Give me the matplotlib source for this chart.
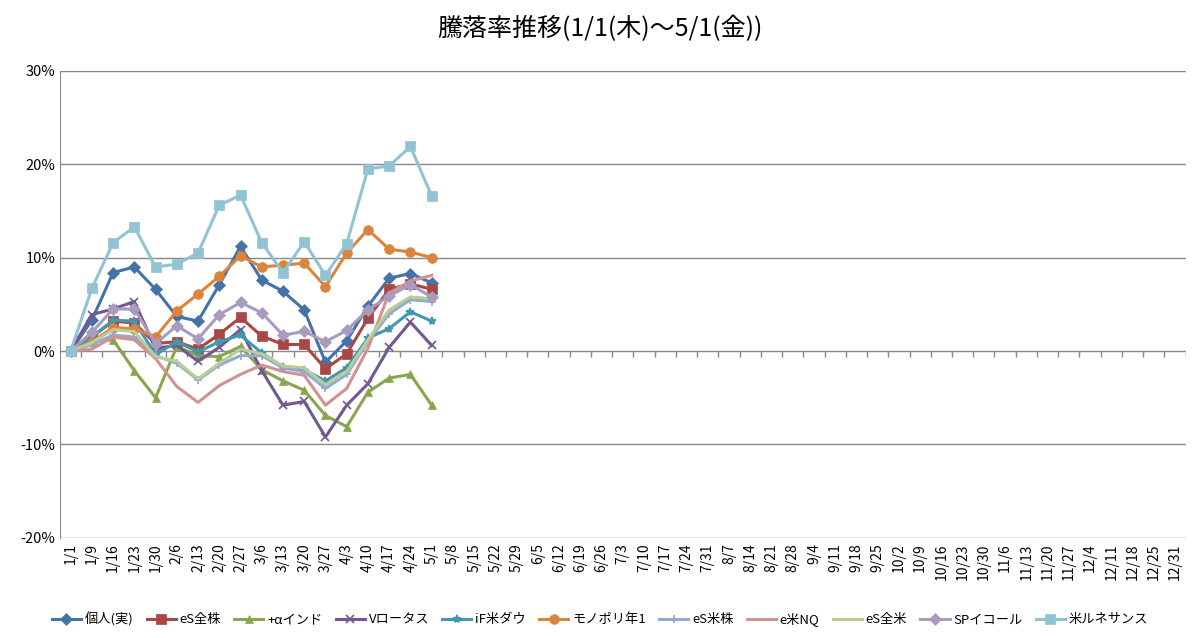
import datetime as dt
import matplotlib.pyplot as plt
from matplotlib.ticker import FuncFormatter

plt.rcParams['font.family'] = ['Noto Sans CJK JP', 'DejaVu Sans']

# 週次のカテゴリ(1/1, 1/9 以降の毎週金曜, 12/31)
d0 = dt.date(2015, 1, 9)
dates = ['1/1'] + [f'{(d0 + dt.timedelta(weeks=i)).month}/{(d0 + dt.timedelta(weeks=i)).day}' for i in range(51)] + ['12/31']

kojin = [0, 3.3, 8.4, 9.0, 6.6, 3.7, 3.2, 7.1, 11.2, 7.6, 6.4, 4.4, -1.2, 1.1, 4.8, 7.8, 8.3, 7.3]
es_zenkabu = [0, 1.5, 3.2, 3.0, 0.8, 1.0, 0.2, 1.8, 3.6, 1.6, 0.7, 0.7, -1.9, -0.3, 3.5, 6.6, 7.2, 6.6]
alpha_india = [0, 1.0, 1.2, -2.1, -5.0, 0.5, -0.5, -0.6, 0.5, -2.0, -3.2, -4.2, -6.9, -8.1, -4.4, -2.9, -2.5, -5.8]
v_lotus = [0, 3.9, 4.5, 5.3, 0.3, 0.6, -1.1, 0.4, 2.3, -2.1, -5.8, -5.4, -9.2, -5.8, -3.5, 0.4, 3.1, 0.6]
if_dow = [0, 1.5, 3.3, 3.2, -0.4, 1.0, -0.1, 1.0, 1.7, -0.2, -1.7, -2.0, -3.2, -1.8, 1.4, 2.4, 4.2, 3.2]
monopoly = [0, 1.0, 2.5, 2.4, 1.5, 4.3, 6.1, 8.0, 10.2, 9.0, 9.2, 9.4, 6.9, 10.5, 13.0, 10.9, 10.6, 10.0]
es_beikabu = [0, 0.7, 1.7, 1.5, -0.5, -1.3, -3.1, -1.5, -0.5, -0.5, -1.8, -2.2, -4.0, -2.5, 1.0, 4.0, 5.5, 5.3]
e_nq = [0, 0.2, 1.5, 1.2, -0.8, -3.8, -5.5, -3.7, -2.5, -1.5, -2.2, -2.6, -5.8, -4.0, 0.3, 6.2, 7.5, 8.1]
es_zenbei = [0, 0.9, 2.3, 2.1, -0.6, -1.1, -3.0, -1.3, 0.2, -0.3, -1.6, -1.8, -3.6, -2.2, 1.2, 4.4, 5.8, 5.6]
sp_equal = [0, 2.0, 4.5, 4.5, 0.8, 2.7, 1.3, 3.9, 5.2, 4.1, 1.7, 2.1, 1.0, 2.2, 4.4, 5.9, 7.1, 5.8]
renaissance = [0, 6.7, 11.6, 13.3, 9.0, 9.3, 10.5, 15.6, 16.7, 11.6, 8.4, 11.7, 8.1, 11.5, 19.5, 19.8, 21.9, 16.6]

series = [
    ('個人(実)', kojin, '#4572A7', 'D'),
    ('eS全株', es_zenkabu, '#AA4643', 's'),
    ('+αインド', alpha_india, '#89A54E', '^'),
    ('Vロータス', v_lotus, '#71588F', 'x'),
    ('iF米ダウ', if_dow, '#4198AF', '*'),
    ('モノポリ年1', monopoly, '#DB843D', 'o'),
    ('eS米株', es_beikabu, '#93A9CF', '+'),
    ('e米NQ', e_nq, '#D19392', None),
    ('eS全米', es_zenbei, '#B9CD96', None),
    ('SPイコール', sp_equal, '#A99BBD', 'D'),
    ('米ルネサンス', renaissance, '#92C3D4', 's'),
]

fig = plt.figure(figsize=(12, 6.38), dpi=100)
ax = fig.add_axes([0.05, 0.157, 0.938, 0.732])
x = range(len(kojin))
for name, vals, color, mk in series:
    ms = 7 if mk in ('s', 'o') else 6
    ax.plot(x, vals, color=color, marker=mk, markersize=ms, linewidth=2.2,
            markeredgewidth=1.2 if mk in ('x', '+', '*') else 0.5,
            markeredgecolor=color, label=name)

ax.set_xlim(-0.5, len(dates) - 0.5)
ax.set_ylim(-20, 30)
ax.set_yticks(range(-20, 31, 10))
ax.yaxis.set_major_formatter(FuncFormatter(lambda v, p: f'{v:.0f}%'))
ax.set_xticks(range(len(dates)))
ax.set_xticklabels(dates, rotation=90, fontsize=10, va='top')
ax.tick_params(axis='y', labelsize=10.5, length=0)
ax.tick_params(axis='x', length=0, pad=4)
ax.grid(axis='y', color='#888888', linewidth=1)
ax.set_axisbelow(True)
for s in ('top', 'right', 'bottom'):
    ax.spines[s].set_visible(False)
ax.spines['left'].set_color('#888888')
# 0% 線上の目盛り
ax.vlines([i + 0.5 for i in range(len(dates))], -0.6, 0, color='#888888', linewidth=1, zorder=0)

fig.suptitle('騰落率推移(1/1(木)～5/1(金))', fontsize=18, y=0.975)
fig.legend(loc='lower center', ncol=11, frameon=False, fontsize=9.5,
           bbox_to_anchor=(0.5, 0.0), handlelength=2.2, columnspacing=1.0, handletextpad=0.3)
fig.savefig('out.png')
